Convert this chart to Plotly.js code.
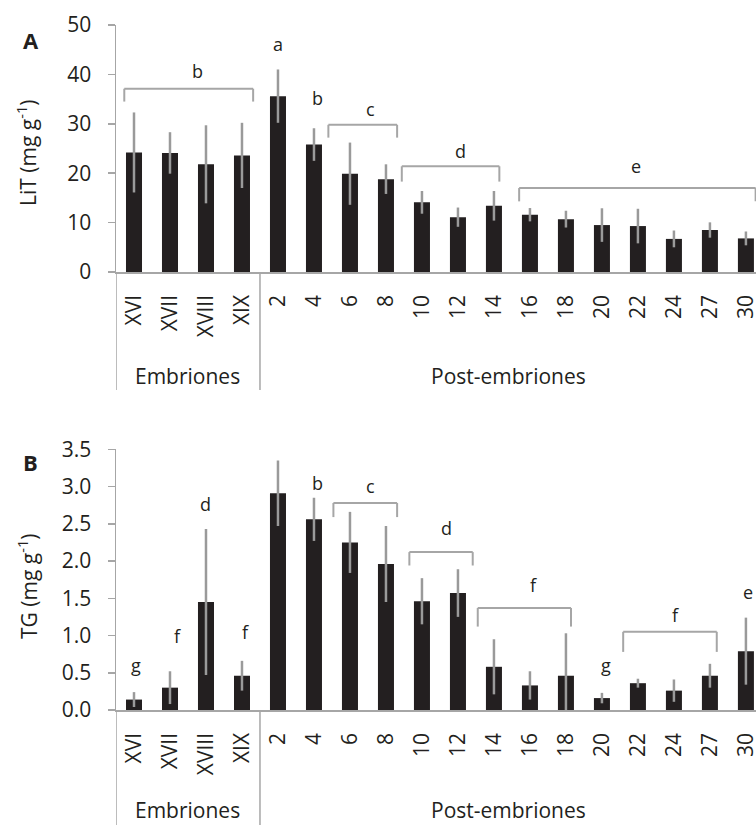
<!DOCTYPE html>
<html>
<head>
<meta charset="utf-8">
<script src="https://cdn.plot.ly/plotly-3.0.1.min.js"></script>
<style>html,body{margin:0;padding:0;background:#fff;overflow:hidden;}</style>
</head>
<body>
<div id="chart" style="width:756px;height:825px;"></div>
<script>
// ---- data ----
const categories = ['XVI','XVII','XVIII','XIX','2','4','6','8','10','12','14','16','18','20','22','24','27','30'];
const groupLabels = ['Embriones','Post-embriones'];
const litMean = [24.2,24.1,21.8,23.6,35.6,25.8,19.9,18.8,14.1,11.1,13.4,11.6,10.7,9.5,9.3,6.7,8.5,6.8];
const litErr  = [8.1,4.2,7.9,6.6,5.4,3.3,6.3,3.0,2.3,1.95,3.0,1.35,1.7,3.4,3.5,1.7,1.55,1.4];
const tgMean  = [0.14,0.30,1.45,0.46,2.91,2.56,2.25,1.96,1.46,1.57,0.58,0.33,0.46,0.16,0.36,0.26,0.46,0.79];
const tgErr   = [0.10,0.22,0.98,0.20,0.44,0.29,0.41,0.51,0.31,0.32,0.37,0.19,0.57,0.07,0.06,0.15,0.16,0.45];
// single letters: [xIndex, y, letter]
const litLetters = [[4,46.2,'a'],[5.09,35.3,'b']];
const tgLetters  = [[0.05,0.60,'g'],[1.2,1.0,'f'],[2,2.77,'d'],[3.1,1.05,'f'],[4,3.58,'a'],[5.1,3.05,'b'],[13.1,0.60,'g'],[17.06,1.59,'e']];
// brackets: [xStart, xEnd, yTop, yLeg, letter, labelX, labelY]
const litBrackets = [[-0.27,3.31,37.1,34.5,'b',1.76,40.6],[5.40,7.31,29.8,27.2,'c',6.58,32.9],[7.44,10.15,21.4,18.3,'d',9.08,24.5],[10.70,17.27,17.0,14.3,'e',13.94,21.4]];
const tgBrackets  = [[5.54,7.31,2.78,2.59,'c',6.57,3.01],[7.65,9.41,2.12,1.94,'d',8.69,2.44],[9.55,12.14,1.37,1.12,'f',11.1,1.68],[13.59,16.19,1.05,0.78,'f',15.03,1.28]];

// ---- styles ----
const FONT = 'Open Sans, Noto Sans, sans-serif';
const TXT = '#231f20';
const GRAY = '#a6a6a6';
const BAR = '#231f20';
const ERR = '#9a9a9a';
const W = 756, H = 825, ML = 116;
const px = x => (x - ML) / (W - ML);
const py = y => 1 - y / H;

const traces = [
  {type:'bar', x:categories, y:litMean, xaxis:'x', yaxis:'y', marker:{color:BAR},
   error_y:{type:'data', array:litErr, visible:true, color:ERR, thickness:2.5, width:0}},
  {type:'bar', x:categories, y:tgMean, xaxis:'x2', yaxis:'y2', marker:{color:BAR},
   error_y:{type:'data', array:tgErr, visible:true, color:ERR, thickness:2.5, width:0}}
];

const shapes = [];
const annotations = [];
const ann = o => annotations.push(Object.assign({showarrow:false, xanchor:'center', yanchor:'middle'}, o));
function addBrackets(list, xr, yr) {
  list.forEach(b => {
    const line = {color:GRAY, width:2};
    shapes.push({type:'line', xref:xr, yref:yr, x0:b[0], x1:b[1], y0:b[2], y1:b[2], line});
    shapes.push({type:'line', xref:xr, yref:yr, x0:b[0], x1:b[0], y0:b[3], y1:b[2], line});
    shapes.push({type:'line', xref:xr, yref:yr, x0:b[1], x1:b[1], y0:b[3], y1:b[2], line});
    ann({xref:xr, yref:yr, x:b[5], y:b[6], text:b[4], font:{family:FONT, size:18, color:TXT}});
  });
}
function addLetters(list, xr, yr) {
  list.forEach(l => ann({xref:xr, yref:yr, x:l[0], y:l[1], text:l[2], font:{family:FONT, size:18, color:TXT}}));
}
addBrackets(litBrackets, 'x', 'y');
addBrackets(tgBrackets, 'x2', 'y2');
addLetters(litLetters, 'x', 'y');
addLetters(tgLetters, 'x2', 'y2');

// group divider lines below axes
[-0.5, 3.5].forEach(v => {
  shapes.push({type:'line', xref:'x', yref:'paper', x0:v, x1:v, y0:py(272), y1:py(390), line:{color:GRAY, width:1.5}});
  shapes.push({type:'line', xref:'x2', yref:'paper', x0:v, x1:v, y0:py(710), y1:0, line:{color:GRAY, width:1.5}});
});
// group labels
ann({xref:'x', yref:'paper', x:1.5, y:py(376), text:groupLabels[0], font:{family:FONT,size:21,color:TXT}});
ann({xref:'x', yref:'paper', x:10.4, y:py(376), text:groupLabels[1], font:{family:FONT,size:21,color:TXT}});
ann({xref:'x2', yref:'paper', x:1.5, y:py(810), text:groupLabels[0], font:{family:FONT,size:21,color:TXT}});
ann({xref:'x2', yref:'paper', x:10.4, y:py(810), text:groupLabels[1], font:{family:FONT,size:21,color:TXT}});
// panel letters
ann({xref:'paper', yref:'paper', x:px(31), y:py(40), text:'<b>A</b>', font:{family:FONT,size:22,color:TXT}});
ann({xref:'paper', yref:'paper', x:px(30), y:py(462), text:'<b>B</b>', font:{family:FONT,size:22,color:TXT}});
// y titles
ann({xref:'paper', yref:'paper', x:px(27), y:py(153), text:'LiT (mg g<sup>-1</sup>)', textangle:-90, font:{family:FONT,size:21,color:TXT}});
ann({xref:'paper', yref:'paper', x:px(27), y:py(586), text:'TG (mg g<sup>-1</sup>)', textangle:-90, font:{family:FONT,size:21,color:TXT}});

const xBase = {type:'category', range:[-0.5, 17.28], showline:true, linecolor:GRAY, linewidth:1.5,
  ticks:'', showgrid:false, zeroline:false, tickangle:-90, ticklabelstandoff:13,
  tickfont:{family:FONT, size:21, color:TXT}, fixedrange:true};
const yBase = {showline:true, linecolor:GRAY, linewidth:1.5, ticks:'outside', ticklen:7, tickwidth:1.5, tickcolor:GRAY,
  showgrid:false, zeroline:false, ticklabelstandoff:12, tickfont:{family:FONT, size:21, color:TXT}, fixedrange:true};

const layout = {
  width:W, height:H, margin:{l:ML, r:0, t:0, b:0},
  paper_bgcolor:'#fff', plot_bgcolor:'#fff', showlegend:false, bargap:0.555,
  xaxis:Object.assign({}, xBase, {anchor:'y', domain:[0,1]}),
  yaxis:Object.assign({}, yBase, {anchor:'x', domain:[py(272), py(25)], range:[0,50], dtick:10, tick0:0}),
  xaxis2:Object.assign({}, xBase, {anchor:'y2', domain:[0,1]}),
  yaxis2:Object.assign({}, yBase, {anchor:'x2', domain:[py(710), py(449.3)], range:[0,3.5], dtick:0.5, tick0:0, tickformat:'.1f'}),
  shapes, annotations
};
Plotly.newPlot('chart', traces, layout, {displayModeBar:false, staticPlot:true});
</script>
</body>
</html>
